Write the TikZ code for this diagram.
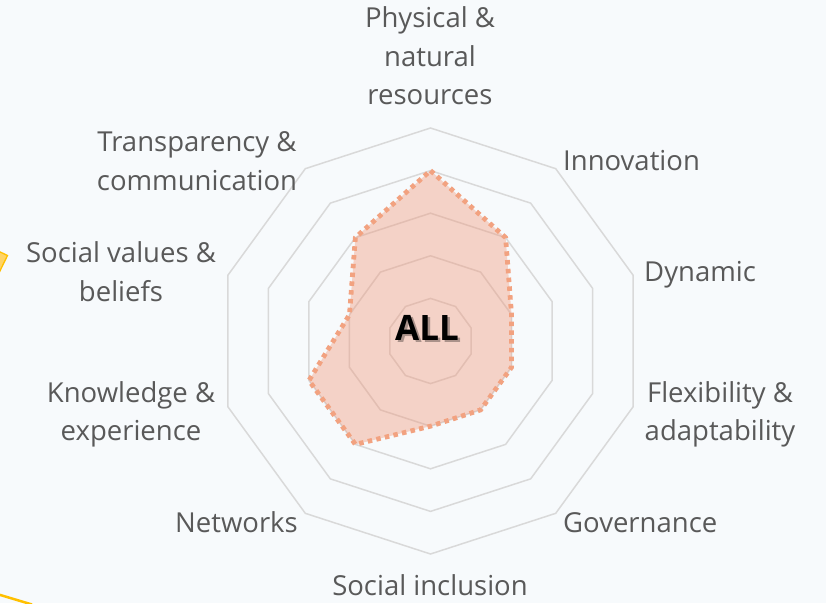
\documentclass[tikz,border=0pt]{standalone}
\usepackage{fontspec}
\setmainfont{Open Sans}
\usetikzlibrary{calc}
\definecolor{bg}{HTML}{F7FAFC}
\definecolor{ringc}{HTML}{D9D9D9}
\definecolor{lbl}{HTML}{595959}
\definecolor{datafill}{RGB}{240,150,120}
\definecolor{dataline}{RGB}{242,162,128}
\definecolor{goldline}{HTML}{FFC000}
\definecolor{goldfill}{HTML}{FFD466}
\newcommand{\mlbl}[1]{\begin{tabular}[t]{@{}c@{}}#1\end{tabular}}
\tikzset{
  axislabel/.style={text=lbl, font=\fontsize{27.5}{38.5}\selectfont, inner sep=0pt},
  ringline/.style={draw=ringc, line width=1.5pt, line join=miter},
  series/.style={fill=datafill, fill opacity=0.4, draw=dataline, draw opacity=1,
                 line width=4.8pt, dash pattern=on 4.5pt off 4.3pt, line join=miter},
  centrelabel/.style={font=\fontsize{35}{40}\selectfont\bfseries, inner sep=0pt},
}
\begin{document}
\begin{tikzpicture}[x=1pt,y=1pt]
\useasboundingbox (0,0) rectangle (826,603);
\fill[bg] (0,0) rectangle (826,603);

% partial yellow shapes at the left edge
\filldraw[fill=goldfill, draw=goldline, line width=1.3pt] (-4,353) -- (7.5,347.5) -- (-4,324) -- cycle;
\draw[goldline, line width=2.5pt] (-5,9.6) -- (32,-1.5);

\begin{scope}[shift={(430.5,262)}]
  \coordinate (c) at (0,0);
  \foreach \k in {1,...,5}
    \draw[ringline] plot[samples at={18,54,...,342}] (\x:\k*42.6) -- cycle;
  \coordinate (p1) at (90:4*42.6);
  \coordinate (p2) at (54:3*42.6);
  \coordinate (p3) at (18:2*42.6);
  \coordinate (p4) at (-18:2*42.6);
  \coordinate (p5) at (-54:2*42.6);
  \coordinate (p6) at (-90:2*42.6);
  \coordinate (p7) at (-126:3*42.6);
  \coordinate (p8) at (-162:3*42.6);
  \coordinate (p9) at (162:2*42.6);
  \coordinate (p10) at (126:3*42.6);
  \draw[series] (p1) -- (p2) -- (p3) -- (p4) -- (p5) -- (p6) -- (p7) -- (p8) -- (p9) -- (p10) -- cycle;
\end{scope}

\node[centrelabel, text=black, opacity=0.3, anchor=base] (allshadow) at (429.5,260.5) {ALL};
\node[centrelabel, text=black, anchor=base] (all) at (427,263) {ALL};

\node[axislabel, anchor=base] (phys) at (430,575) {\mlbl{Physical \&\\natural\\resources}};
\node[axislabel, anchor=base west] (innov) at (563,432) {Innovation};
\node[axislabel, anchor=base west] (dyn) at (644,321) {Dynamic};
\node[axislabel, anchor=base] (flex) at (720,201) {\mlbl{Flexibility \&\\adaptability}};
\node[axislabel, anchor=base west] (gov) at (563,71) {Governance};
\node[axislabel, anchor=base] (incl) at (430,8) {Social inclusion};
\node[axislabel, anchor=base east] (net) at (298,71) {Networks};
\node[axislabel, anchor=base] (know) at (131,201) {\mlbl{Knowledge \&\\experience}};
\node[axislabel, anchor=base] (vals) at (121,340) {\mlbl{Social values \&\\beliefs}};
\node[axislabel, anchor=base] (trans) at (197,451) {\mlbl{Transparency \&\\communication}};
\end{tikzpicture}
\end{document}
